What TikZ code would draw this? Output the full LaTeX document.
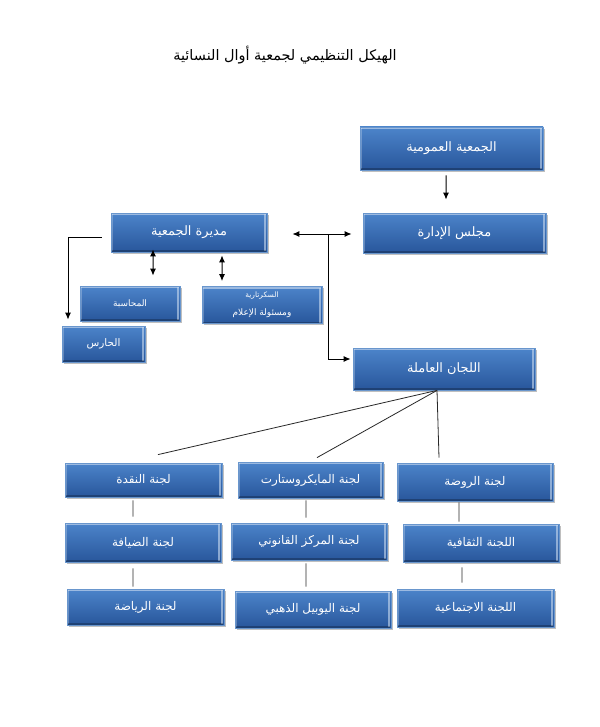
\documentclass[tikz,border=0pt]{standalone}
\usepackage{fontspec}
\newfontfamily\arabicfont[Script=Arabic]{DejaVu Sans}
\TeXXeTstate=1
\usetikzlibrary{arrows.meta,shadows}
\newcommand{\artxt}[1]{\beginR #1\endR}
\definecolor{boxtop}{RGB}{76,132,202}
\definecolor{boxbot}{RGB}{40,86,155}
\definecolor{boxedge}{RGB}{105,150,205}
\definecolor{lineclr}{RGB}{40,40,40}
\begin{document}
\begin{tikzpicture}[x=1bp,y=-1bp,
  box/.style={rectangle, inner sep=0pt, top color=boxtop, bottom color=boxbot,
    draw=boxedge, line width=0.8bp,
    drop shadow={shadow xshift=1.5bp, shadow yshift=-1.8bp, fill=black!45, opacity=.55},
    text=white, font=\arabicfont\fontsize{12}{14}\selectfont,
    path picture={
      \draw[white, opacity=.45, line width=1.6bp]
        ([xshift=1bp,yshift=-1.2bp]path picture bounding box.north west) --
        ([xshift=-1bp,yshift=-1.2bp]path picture bounding box.north east);
      \draw[white, opacity=.25, line width=1.6bp]
        ([xshift=1.2bp,yshift=-1bp]path picture bounding box.north west) --
        ([xshift=1.2bp,yshift=1bp]path picture bounding box.south west);
      \draw[white!70!boxtop, opacity=.6, line width=2.5bp]
        ([xshift=-1.8bp,yshift=-1bp]path picture bounding box.north east) --
        ([xshift=-1.8bp,yshift=1bp]path picture bounding box.south east);
      \draw[black, opacity=.25, line width=1.5bp]
        ([xshift=1bp,yshift=1bp]path picture bounding box.south west) --
        ([xshift=-1bp,yshift=1bp]path picture bounding box.south east);
    }},
  topbox/.style={box, font=\arabicfont\fontsize{13}{15}\selectfont},
  arr/.style={draw=black, line width=1bp, -{Latex[length=7bp,width=6bp]}},
  dbl/.style={draw=black, line width=1bp, {Latex[length=7bp,width=6bp]}-{Latex[length=7bp,width=6bp]}},
  conn/.style={draw=lineclr, line width=0.8bp}
]
\useasboundingbox[fill=white] (0,0) rectangle (600,727);

% title
\node[font=\arabicfont\fontsize{14.5}{17}\selectfont, text=black] (title) at (285,55) {\artxt{الهيكل التنظيمي لجمعية أوال النسائية}};

% top right
\node[topbox, minimum width=183bp, minimum height=43bp] (ga) at (451.5,148.5) {\artxt{الجمعية العمومية}};
\node[topbox, minimum width=183bp, minimum height=40bp] (board) at (454.5,233) {\artxt{مجلس الإدارة}};
\node[topbox, minimum width=182bp, minimum height=42bp] (wc) at (444,369) {\artxt{اللجان العاملة}};

% left cluster
\node[topbox, minimum width=156bp, minimum height=39bp] (dir) at (189,232.5) {\artxt{مديرة الجمعية}};
\node[box, minimum width=100bp, minimum height=35bp, font=\arabicfont\fontsize{9}{11}\selectfont] (acct) at (130,303.5) {\artxt{المحاسبة}};
\node[box, minimum width=120bp, minimum height=37bp, align=center, font=\arabicfont\fontsize{9}{10}\selectfont] (sec) at (262,305) {{\fontsize{7.5}{9}\selectfont\artxt{السكرتارية}}\\[8bp]\artxt{ومسئولة الإعلام}};
\node[box, minimum width=83bp, minimum height=36bp, font=\arabicfont\fontsize{10.5}{12}\selectfont] (guard) at (103.5,344) {\artxt{الحارس}};

% committees
\node[box, minimum width=157bp, minimum height=34bp] (naqda) at (143.5,480) {\artxt{لجنة النقدة}};
\node[box, minimum width=145bp, minimum height=36bp] (micro) at (310.5,480) {\artxt{لجنة المايكروستارت}};
\node[box, minimum width=156bp, minimum height=38bp] (rawda) at (475,482) {\artxt{لجنة الروضة}};
\node[box, minimum width=156bp, minimum height=39bp] (diyafa) at (143,542.5) {\artxt{لجنة الضيافة}};
\node[box, minimum width=156bp, minimum height=37bp] (markaz) at (309,541.5) {\artxt{لجنة المركز القانوني}};
\node[box, minimum width=156bp, minimum height=38bp] (thaq) at (481,543) {\artxt{اللجنة الثقافية}};
\node[box, minimum width=157bp, minimum height=36bp] (riyada) at (145.5,607) {\artxt{لجنة الرياضة}};
\node[box, minimum width=156bp, minimum height=37bp] (yubil) at (313,609.5) {\artxt{لجنة اليوبيل الذهبي}};
\node[box, minimum width=157bp, minimum height=38bp] (ijtima) at (475.5,608) {\artxt{اللجنة الاجتماعية}};

% connectors top
\draw[arr] ([xshift=-5.5bp,yshift=-5bp]ga.south) -- ([xshift=-8.5bp,yshift=13bp]board.north);
\draw[dbl, shorten <=25bp, shorten >=11bp] ([yshift=-1.5bp]dir.east) -- ([yshift=-1bp]board.west);
\coordinate (jn) at (328,234);
\draw[arr] (jn) |- ([xshift=-2bp,yshift=10bp]wc.west);

% left cluster connectors
\draw[arr] ([xshift=-9bp,yshift=-4.5bp]dir.west) -| ([xshift=-35.5bp,yshift=6bp]guard.north);
\draw[dbl] ([xshift=-36bp,yshift=3bp]dir.south) -- ([xshift=23bp,yshift=10bp]acct.north);
\draw[dbl] ([xshift=33bp,yshift=-3bp]dir.south) -- ([xshift=-40bp,yshift=5bp]sec.north);

% fan
\draw[conn] ([xshift=-7bp]wc.south) -- ([xshift=14.5bp,yshift=8bp]naqda.north);
\draw[conn] ([xshift=-7bp]wc.south) -- ([xshift=6.5bp,yshift=4bp]micro.north);
\draw[conn] ([xshift=-7bp]wc.south) -- ([xshift=-36bp,yshift=5bp]rawda.north);

% column connectors
\draw[conn] ([xshift=-10.5bp,yshift=-3bp]naqda.south) -- ([xshift=-10bp,yshift=6bp]diyafa.north);
\draw[conn] ([xshift=-10bp,yshift=-6bp]diyafa.south) -- ([xshift=-12.5bp,yshift=2bp]riyada.north);
\draw[conn] ([xshift=-4.5bp,yshift=-2bp]micro.south) -- ([xshift=-3bp,yshift=5bp]markaz.north);
\draw[conn] ([xshift=-3bp,yshift=-3bp]markaz.south) -- ([xshift=-7bp,yshift=4bp]yubil.north);
\draw[conn] ([xshift=-16bp,yshift=-1bp]rawda.south) -- ([xshift=-22bp,yshift=2bp]thaq.north);
\draw[conn] ([xshift=-19bp,yshift=-5bp]thaq.south) -- ([xshift=-13.5bp,yshift=6bp]ijtima.north);
\end{tikzpicture}
\end{document}
